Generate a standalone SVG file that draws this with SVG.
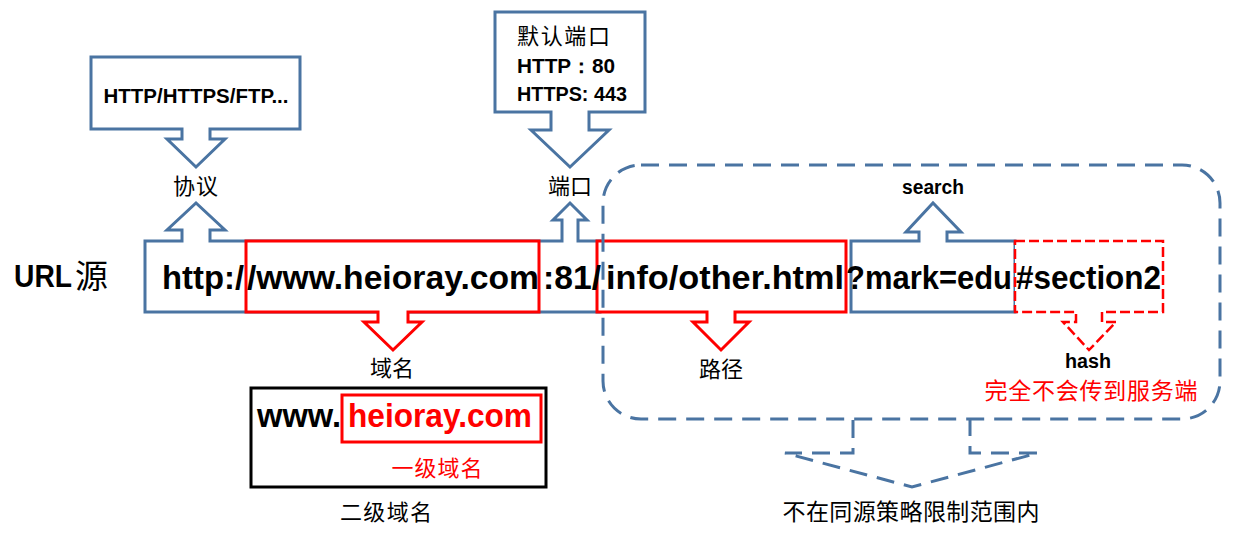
<svg xmlns="http://www.w3.org/2000/svg" width="1237" height="541" viewBox="0 0 1237 541">
<style>
.b{fill:#fff;stroke:#4a74a2;stroke-width:3;stroke-linejoin:miter}
.r{fill:#fff;stroke:#f00;stroke-width:3}
.rd{fill:#fff;stroke:#f00;stroke-width:2.5;stroke-dasharray:10 4}
.bd{fill:none;stroke:#4a74a2;stroke-width:3;stroke-dasharray:18 10}
.k{fill:#fff;stroke:#000;stroke-width:3}
.en{font-family:"Liberation Sans",Arial,sans-serif;font-weight:bold;fill:#000}
.zh{font-family:"Noto Sans CJK SC","Noto Sans CJK JP",sans-serif;fill:#000}
.red{fill:#f00}
</style>
<rect width="1237" height="541" fill="#fff"/>

<g id="protocol-callout">
<path class="b" d="M91,57 H300 V129 H210 V139 H225 L196,167 L167,139 H182 V129 H91 Z"/>
<text class="en" x="196" y="103" font-size="20" text-anchor="middle" textLength="185" lengthAdjust="spacingAndGlyphs">HTTP/HTTPS/FTP...</text>
</g>

<g id="port-callout">
<path class="b" d="M495,12 H645 V112 H589 V130 H609 L570,167 L531,130 H551 V112 H495 Z"/>
<text class="zh" x="517" y="44" font-size="22" textLength="93">默认端口</text>
<text class="en" x="517" y="73" font-size="20" textLength="98" lengthAdjust="spacingAndGlyphs">HTTP：80</text>
<text class="en" x="517" y="101" font-size="20" textLength="110" lengthAdjust="spacingAndGlyphs">HTTPS: 443</text>
</g>

<g id="label-protocol"><text class="zh" x="196" y="194" font-size="22" text-anchor="middle" letter-spacing="1">协议</text></g>
<g id="label-port"><text class="zh" x="570" y="194" font-size="22" text-anchor="middle">端口</text></g>

<g id="url-label">
<text class="en" x="14" y="287" font-size="31" textLength="58" lengthAdjust="spacingAndGlyphs">URL</text>
<text class="zh" x="75" y="288" font-size="33">源</text>
</g>

<g id="url-origin">
<path class="b" d="M145,241 H182 V230 H167 L196,203 L225,230 H210 V241 H562 V220 H553 L570,203 L587,220 H578 V241 H600 V312 H145 Z"/>
</g>

<g id="domain">
<path class="r" d="M246,241 H539 V312 H408 V322 H422 L393,350 L364,322 H378 V312 H246 Z"/>
</g>

<g id="path">
<path class="r" d="M597,241 H846 V312 H735 V322 H749 L721,350 L693,322 H707 V312 H597 Z"/>
</g>

<g id="search">
<path class="b" d="M851,241 H919 V232 H906 L933,203 L961,232 H947 V241 H1015 V312 H851 Z"/>
<text class="en" x="933" y="194" font-size="20" text-anchor="middle" textLength="62" lengthAdjust="spacingAndGlyphs">search</text>
</g>

<g id="hash">
<path class="rd" d="M1015,241 H1163 V312 H1102 V322 H1116 L1089,350 L1063,322 H1076 V312 H1015 Z"/>
<text class="en" x="1088" y="368" font-size="20" text-anchor="middle" textLength="46" lengthAdjust="spacingAndGlyphs">hash</text>
<text class="zh red" x="1091" y="399" font-size="23" text-anchor="middle" textLength="213">完全不会传到服务端</text>
</g>

<g id="url-text">
<text class="en" x="162" y="289" font-size="34" textLength="82" lengthAdjust="spacingAndGlyphs">http:/</text>
<text class="en" x="247" y="289" font-size="34" textLength="292" lengthAdjust="spacingAndGlyphs">/www.heioray.com</text>
<text class="en" x="543" y="289" font-size="34" textLength="58" lengthAdjust="spacingAndGlyphs">:81/</text>
<text class="en" x="606" y="289" font-size="34" textLength="238" lengthAdjust="spacingAndGlyphs">info/other.html</text>
<text class="en" x="846" y="289" font-size="34" textLength="166" lengthAdjust="spacingAndGlyphs">?mark=edu</text>
<text class="en" x="1016" y="289" font-size="34" textLength="145" lengthAdjust="spacingAndGlyphs">#section2</text>
</g>

<g id="label-domain"><text class="zh" x="392" y="376" font-size="22" text-anchor="middle">域名</text></g>
<g id="label-path"><text class="zh" x="721" y="377" font-size="22" text-anchor="middle">路径</text></g>

<g id="domain-detail">
<rect class="k" x="251" y="388" width="295" height="99"/>
<rect fill="none" stroke="#f00" stroke-width="3" x="342" y="395" width="199" height="47"/>
<text class="en" x="257" y="427" font-size="34" textLength="84" lengthAdjust="spacingAndGlyphs">www.</text>
<text class="en red" x="348" y="427" font-size="34" textLength="184" lengthAdjust="spacingAndGlyphs">heioray.com</text>
<text class="zh red" x="437" y="476" font-size="22" text-anchor="middle" textLength="91">一级域名</text>
</g>
<g id="label-second-level"><text class="zh" x="386" y="520" font-size="22" text-anchor="middle" textLength="92">二级域名</text></g>

<g id="connectors">
<rect class="bd" x="603" y="165" width="617" height="254" rx="38" ry="38"/>
<path class="bd" d="M853,420 V453 H785 L912,487 L1038,453 H970 V420"/>
</g>

<g id="label-same-origin"><text class="zh" x="911" y="520" font-size="23" text-anchor="middle" textLength="257">不在同源策略限制范围内</text></g>
</svg>
